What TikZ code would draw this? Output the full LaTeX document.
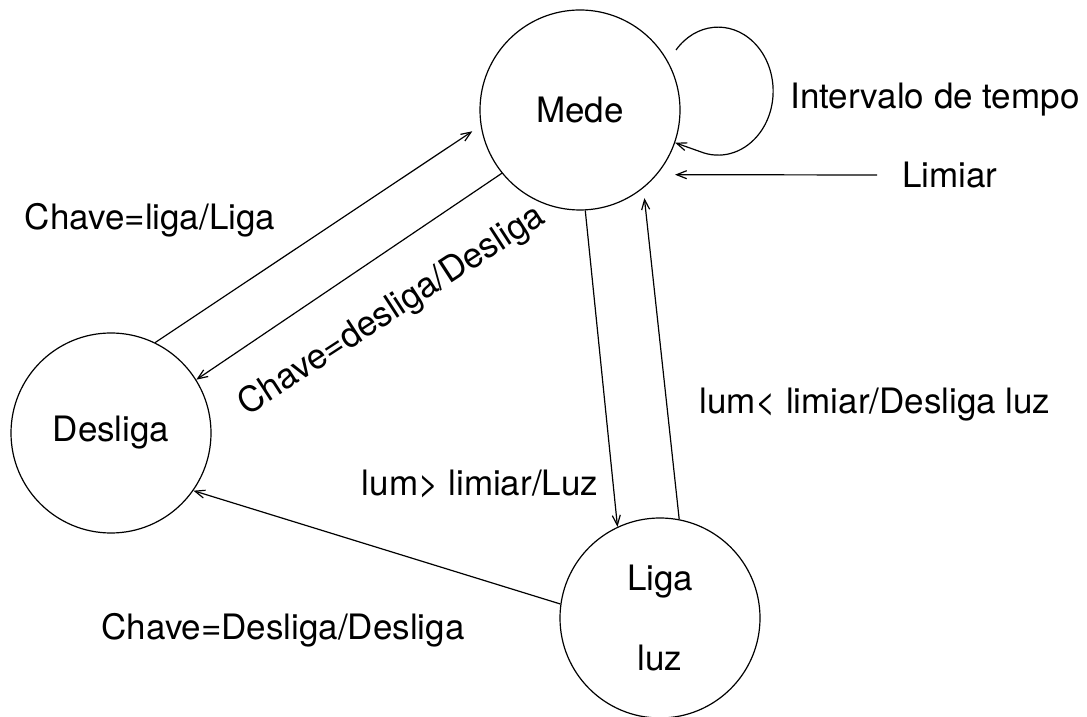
\documentclass[tikz,border=0pt]{standalone}
\usepackage{fontspec}
\setmainfont{TeX Gyre Heros}
\usetikzlibrary{arrows.meta}

\begin{document}
\begin{tikzpicture}[x=0.5pt, y=0.5pt, align=center, font=\fontsize{17.5}{21}\selectfont, line width=0.6pt,
	main/.style = {draw, circle, minimum size=100pt, inner sep=0pt},
	arr/.style = {-{Straight Barb[length=5pt,width=4pt]}}]
	\useasboundingbox (0,0) rectangle (1087,717);
	\node[main] (mede) at (580,607) {Mede};
	\node[main] (desliga) at (111,284) {Desliga};
	\node[main] (liga) at (660,99) {Liga\\[19pt]luz};
	\node (intervalo) [anchor=west] at (783,617) {Intervalo de tempo};
	\node (limiar) at (950,542) {Limiar};
	\node (c1) at (150,497) {Chave=liga/Liga};
	\node (c2) [rotate=33] at (392,406) {Chave=desliga/Desliga};
	\node (c3) at (480,233) {lum> limiar/Luz};
	\node (c4) at (875,312) {lum< limiar/Desliga luz};
	\node (c5) at (283,87) {Chave=Desliga/Desliga};
	\coordinate (loop) at (676,667);
	\draw[arr, shorten >=5pt] (desliga.64) -- (mede.189);
	\draw[arr] (mede.219) -- (desliga.32);
	\draw[arr] (mede.273) -- (liga.115);
	\draw[arr, shorten >=5pt] (liga.79) -- (mede.309);
	\draw[arr] (liga.172) -- (desliga.325);
	\draw[arr, shorten >=9pt] ([xshift=-9pt]limiar.west) -- (mede.-40);
	\draw[arr] (loop) arc[start angle=140, end angle=-105, x radius=55, y radius=64] -- (mede.-19);
\end{tikzpicture}
\end{document}
